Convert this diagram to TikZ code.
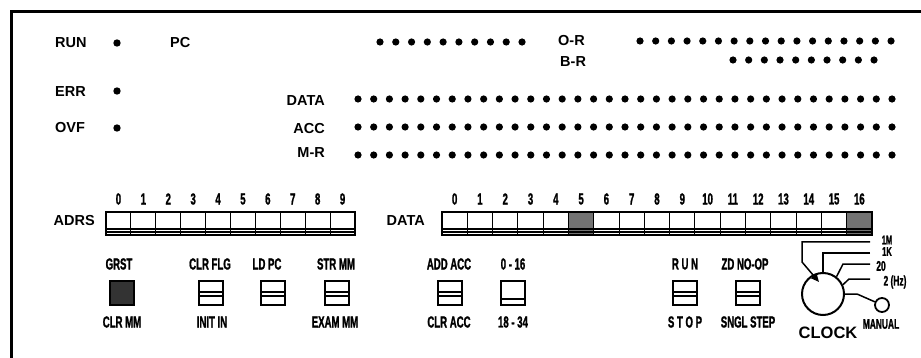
\documentclass[tikz,border=0pt]{standalone}
\usepackage{fontspec}
\setmainfont{Liberation Sans}
\newfontfamily\cond[FakeStretch=0.6,FakeBold=1.2]{Liberation Sans}
\usetikzlibrary{arrows.meta}
\tikzset{
  lbl/.style={font=\fontsize{14.5}{14.5}\selectfont\bfseries, inner sep=0pt},
  cnd/.style={font=\cond\fontsize{16}{16}\selectfont\bfseries, inner sep=0pt},
  cnds/.style={font=\cond\fontsize{14}{14}\selectfont\bfseries, inner sep=0pt},
  cndt/.style={font=\cond\fontsize{12.5}{12.5}\selectfont\bfseries, inner sep=0pt},
  lampdot/.style={fill=black},
  bankline/.style={line width=1.1},
  bankframe/.style={line width=1.7},
  shade/.style={fill=black!55},
  swbox/.style={draw, line width=1.5, minimum width=24pt, minimum height=24pt, inner sep=0pt,
    path picture={\draw[line width=1.2]
      ([yshift=1pt]path picture bounding box.west) -- ([yshift=1pt]path picture bounding box.east)
      ([yshift=-3pt]path picture bounding box.west) -- ([yshift=-3pt]path picture bounding box.east);}},
  swone/.style={draw, line width=1.5, minimum width=24pt, minimum height=24pt, inner sep=0pt,
    path picture={\draw[line width=1.4]
      ([yshift=-6pt]path picture bounding box.west) -- ([yshift=-6pt]path picture bounding box.east);}},
  swdark/.style={draw, line width=1.5, fill=black!80, minimum width=24pt, minimum height=24pt, inner sep=0pt},
  wire/.style={line width=1.5},
}
\begin{document}
\begin{tikzpicture}[x=1pt,y=-1pt]
\useasboundingbox (0,0) rectangle (921,358);
% frame (top and left)
\draw[line width=3] (11,358) -- (11,11.5) -- (921,11.5);

% status lamps
\node[lbl,anchor=west] (run) at (55,43) {RUN};
\node[lbl,anchor=west] (err) at (55,92) {ERR};
\node[lbl,anchor=west] (ovf) at (55,128) {OVF};
\fill[lampdot] (117,43) circle (3.7);
\fill[lampdot] (117,91) circle (3.7);
\fill[lampdot] (117,128) circle (3.7);

% registers
\node[lbl,anchor=west] (pc) at (170,43) {PC};
\foreach \i in {0,...,9} \fill[lampdot] ({380+\i*15.78},42) circle (3.6);
\node[lbl,anchor=west] (or) at (558,41) {O-R};
\node[lbl,anchor=west] (br) at (560,62) {B-R};
\foreach \i in {0,...,16} \fill[lampdot] ({640+\i*15.69},41) circle (3.6);
\foreach \i in {0,...,9} \fill[lampdot] ({733+\i*15.67},60) circle (3.6);

\node[lbl,anchor=east] (data) at (325,101) {DATA};
\node[lbl,anchor=east] (acc) at (325,129) {ACC};
\node[lbl,anchor=east] (mr) at (325,153) {M-R};
\foreach \yy in {99,127,155}
  \foreach \i in {0,...,34} \fill[lampdot] ({358+\i*15.706},\yy) circle (3.6);

% ADRS switch bank
\node[lbl,anchor=east] (adrs) at (95,221) {ADRS};
\foreach \i in {0,...,9} {
  \node[cnd] (an\i) at ({106+(\i+0.5)*24.9},199) {\i};
  \draw[bankline] ({106+\i*24.9},212) -- ({106+\i*24.9},235);
}
\draw[bankline] (106,229) -- (355,229) (106,232) -- (355,232);
\draw[bankframe] (106,212) rectangle (355,235);

% DATA switch bank
\node[lbl,anchor=east] (datasw) at (425,221) {DATA};
\fill[shade] ({442+5*25.294},212) rectangle ({442+6*25.294},235);
\fill[shade] ({442+16*25.294},212) rectangle (872,235);
\foreach \i in {0,...,16} {
  \node[cnd] (dn\i) at ({442+(\i+0.5)*25.294},199) {\i};
  \draw[bankline] ({442+\i*25.294},212) -- ({442+\i*25.294},235);
}
\draw[bankline] (442,229) -- (872,229) (442,232) -- (872,232);
\draw[bankframe] (442,212) rectangle (872,235);

% control switches
\node[cnd] (t1) at (119,264) {GRST};
\node[swdark] (s1) at (122,293) {};
\node[cnd] (b1) at (122,322) {CLR MM};

\node[cnd] (t2) at (210,264) {CLR FLG};
\node[swbox] (s2) at (211,293) {};
\node[cnd] (b2) at (212,322) {INIT IN};

\node[cnd] (t3) at (267,264) {LD PC};
\node[swbox] (s3) at (273,293) {};

\node[cnd] (t4) at (336,264) {STR MM};
\node[swbox] (s4) at (337,293) {};
\node[cnd] (b4) at (335,322) {EXAM MM};

\node[cnd] (t5) at (449,264) {ADD ACC};
\node[swbox] (s5) at (450,293) {};
\node[cnd] (b5) at (449,322) {CLR ACC};

\node[cnd] (t6) at (513,264) {0 - 16};
\node[swone] (s6) at (513,293) {};
\node[cnd] (b6) at (513,322) {18 - 34};

\node[cnd] (t7) at (685,264) {R\,U\,N};
\node[swbox] (s7) at (685,293) {};
\node[cnd] (b7) at (685,322) {S\,T\,O\,P};

\node[cnd] (t8) at (745,264) {ZD NO-OP};
\node[swbox] (s8) at (748,293) {};
\node[cnd] (b8) at (748,322) {SNGL STEP};

% clock selector
\node[circle,draw,line width=2,minimum size=42pt,inner sep=0pt] (clk) at (823,294) {};
\node[circle,draw,line width=1.8,minimum size=14pt,inner sep=0pt] (man) at (882,305) {};
\coordinate (e1) at (870,242);
\coordinate (e2) at (870,253);
\coordinate (e3) at (870,264);
\coordinate (e4) at (870,279);
\coordinate (k1) at (802,242);
\coordinate (k2) at (802,262);
\coordinate (ptr) at (819,282);
\draw[wire,-{Triangle[length=8pt,width=7pt]}] (e1) -- (k1) -- (k2) -- (ptr);
\draw[wire] (e2) -- (e2 -| clk.north) -- (clk.north);
\draw[wire] (e3) -- (843,264) -- (clk.52);
\draw[wire] (e4) -- (849,279) -- (clk.25);
\draw[wire] (clk.east) -- (857,294) -- (man);
\node[cndt] (f1) at (887,240) {1M};
\node[cndt] (f2) at (887,251.5) {1K};
\node[cnds] (f3) at (881,266) {20};
\node[cnds] (f4) at (895,282) {2 (Hz)};
\node[lbl,font=\fontsize{16.5}{16.5}\selectfont\bfseries] (clock) at (828,333) {CLOCK};
\node[cnds] (manual) at (881,324) {MANUAL};
\end{tikzpicture}
\end{document}
